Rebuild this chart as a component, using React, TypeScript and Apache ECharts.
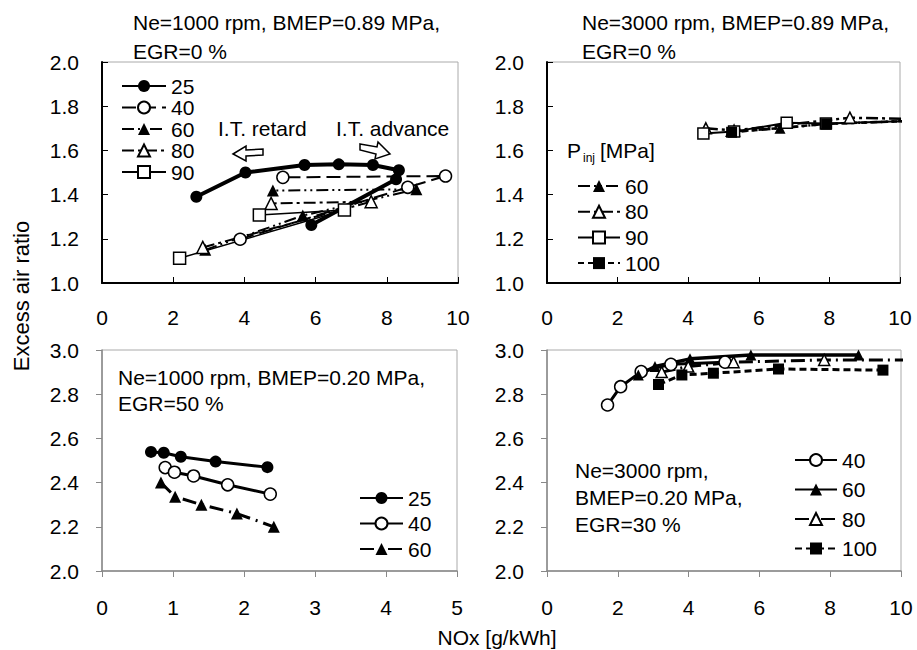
import React, { useEffect, useRef } from "react";
import * as echarts from "echarts";

const FONT = '"Liberation Sans", Arial, sans-serif';

// ---------- Data ----------
// Top-left: Ne=1000 rpm, BMEP=0.89 MPa, EGR=0 %  (NOx, excess air ratio)
const tlLabels = ["25", "40", "60", "80", "90"];
const tl25 = [[2.65, 1.39], [4.03, 1.5], [5.69, 1.534], [6.65, 1.537], [7.61, 1.534], [8.34, 1.51], [8.26, 1.469], [5.88, 1.262]];
const tl40 = [[3.88, 1.198], [8.59, 1.433], [9.65, 1.484], [5.08, 1.478]];
const tl60 = [[2.9, 1.15], [5.64, 1.305], [8.83, 1.424], [4.8, 1.418]];
const tl80 = [[2.83, 1.161], [7.56, 1.368], [4.75, 1.36]];
const tl90 = [[2.18, 1.112], [6.81, 1.33], [4.42, 1.308]];

// Top-right: Ne=3000 rpm, BMEP=0.89 MPa, EGR=0 %
const trLabels = ["60", "80", "90", "100"];
const tr60 = [[5.2, 1.685], [6.6, 1.7], [7.9, 1.72], [10.6, 1.735]];
const tr80 = [[4.5, 1.7], [5.3, 1.69], [8.58, 1.748], [11, 1.74]];
const tr90 = [[4.43, 1.677], [5.3, 1.685], [6.79, 1.725], [7.9, 1.722], [10.6, 1.735]];
const tr100 = [[5.23, 1.682], [7.92, 1.72], [10.6, 1.735]];

// Bottom-left: Ne=1000 rpm, BMEP=0.20 MPa, EGR=50 %
const blLabels = ["25", "40", "60"];
const bl25 = [[0.69, 2.539], [0.87, 2.535], [1.11, 2.517], [1.6, 2.495], [2.33, 2.47]];
const bl40 = [[0.89, 2.468], [1.02, 2.447], [1.29, 2.43], [1.77, 2.39], [2.37, 2.348]];
const bl60 = [[0.83, 2.4], [1.03, 2.336], [1.4, 2.3], [1.9, 2.26], [2.42, 2.2]];

// Bottom-right: Ne=3000 rpm, BMEP=0.20 MPa, EGR=30 %
const brLabels = ["40", "60", "80", "100"];
const br40 = [[1.71, 2.751], [2.08, 2.834], [2.66, 2.902], [3.5, 2.935], [5.03, 2.945]];
const br60 = [[2.58, 2.887], [3.05, 2.925], [4.04, 2.96], [5.76, 2.977], [8.8, 2.977]];
const br80 = [[3.24, 2.9], [3.99, 2.925], [5.27, 2.945], [7.83, 2.955], [10.6, 2.955]];
const br100 = [[3.15, 2.844], [3.81, 2.887], [4.7, 2.895], [6.54, 2.914], [9.49, 2.909]];

// Axis ranges / ticks
const topYRange = [1.0, 2.0];
const botYRange = [2.0, 3.0];
const yStep = 0.2;
const xRangeWide = [0, 10];
const xStepWide = 2;
const xRangeNarrow = [0, 5];
const xStepNarrow = 1;

// ---------- Styling helpers ----------
const DASH_LONG = [14, 6];
const DASH_DDOT = [12, 4, 2, 4, 2, 4];
const DASH_DOT = [12, 4, 3, 4];
const DASH_SHORT = [6, 4];

function mk(id: string, label: string, g: number, data: number[][], symbol: string, filled: boolean, width: number, dash: any, size = 12) {
  return {
    type: "line",
    name: id + "|" + label,
    xAxisIndex: g,
    yAxisIndex: g,
    data,
    symbol,
    symbolSize: size,
    showSymbol: true,
    clip: true,
    silent: true,
    lineStyle: { color: "#000", width, type: dash || "solid" },
    itemStyle: filled
      ? { color: "#000", borderColor: "#000", borderWidth: 0 }
      : { color: "#fff", borderColor: "#000", borderWidth: 1.5 },
    emphasis: { disabled: true },
  };
}

function xAx(g: number, range: number[], step: number, top: boolean) {
  return {
    gridIndex: g,
    type: "value",
    min: range[0],
    max: range[1],
    interval: step,
    axisLine: { show: true, onZero: false, lineStyle: { color: top ? "#000" : "#888", width: top ? 2 : 1.5 } },
    axisTick: { show: true, inside: top, length: 6, lineStyle: { color: top ? "#000" : "#888", width: 1 } },
    axisLabel: { margin: top ? 24 : 26, fontSize: 21, color: "#000", fontFamily: FONT },
    splitLine: { show: false },
  };
}

function yAx(g: number, range: number[], top: boolean) {
  return {
    gridIndex: g,
    type: "value",
    min: range[0],
    max: range[1],
    interval: yStep,
    axisLine: { show: true, onZero: false, lineStyle: { color: top ? "#000" : "#888", width: top ? 2 : 1.5 } },
    axisTick: { show: true, inside: top, length: 6, lineStyle: { color: top ? "#000" : "#888", width: 1 } },
    axisLabel: { margin: 23, fontSize: 21, color: "#000", fontFamily: FONT, formatter: (v: number) => v.toFixed(1) },
    splitLine: { show: false },
  };
}

const ROW_H = 22; // rendered legend row height (text box)

function legend(id: string, labels: string[], left: number, top: number, itemWidth: number, spacing: number) {
  const ih = 15;
  return {
    orient: "vertical",
    left,
    top: top - ih / 2,
    padding: 0,
    itemWidth,
    itemHeight: ih,
    itemGap: Math.max(0, spacing - ROW_H),
    selectedMode: false,
    data: labels.map((l) => id + "|" + l),
    formatter: (n: string) => n.split("|")[1],
    textStyle: { fontSize: 21, color: "#000", fontFamily: FONT },
  };
}

function panelTitle(text: string, left: number, top: number, lh: number) {
  return {
    text,
    left,
    top,
    padding: 0,
    textStyle: { fontSize: 21, fontWeight: "normal", color: "#000", fontFamily: FONT, lineHeight: lh },
  };
}

export default function App() {
  const ref = useRef<HTMLDivElement>(null);
  useEffect(() => {
    if (!ref.current) return;
    const chart = echarts.init(ref.current, null, { renderer: "svg" });
    const gridBase = { show: true, borderColor: "#aaa", borderWidth: 1, backgroundColor: "transparent" };
    const option: any = {
      animation: false,
      backgroundColor: "#fff",
      grid: [
        { ...gridBase, left: 102, top: 62, width: 356, height: 221 },
        { ...gridBase, left: 547, top: 62, width: 353, height: 221 },
        { ...gridBase, left: 102, top: 350, width: 355, height: 221 },
        { ...gridBase, left: 547, top: 350, width: 354, height: 221 },
      ],
      xAxis: [
        xAx(0, xRangeWide, xStepWide, true),
        xAx(1, xRangeWide, xStepWide, true),
        xAx(2, xRangeNarrow, xStepNarrow, false),
        xAx(3, xRangeWide, xStepWide, false),
      ],
      yAxis: [yAx(0, topYRange, true), yAx(1, topYRange, true), yAx(2, botYRange, false), yAx(3, botYRange, false)],
      title: [
        panelTitle("Ne=1000 rpm, BMEP=0.89 MPa,\nEGR=0 %", 133, 8, 29),
        panelTitle("Ne=3000 rpm, BMEP=0.89 MPa,\nEGR=0 %", 582, 8, 29),
        panelTitle("Ne=1000 rpm, BMEP=0.20 MPa,\nEGR=50 %", 118, 364, 26),
        panelTitle("Ne=3000 rpm,\nBMEP=0.20 MPa,\nEGR=30 %", 575, 457, 27),
      ],
      legend: [
        legend("TL", tlLabels, 121, 83, 44, 22.5),
        legend("TR", trLabels, 577, 183, 42, 26.7),
        legend("BL", blLabels, 359, 495, 43, 26.5),
        legend("BR", brLabels, 794, 457, 42, 30.5),
      ],
      series: [
        mk("TL", "25", 0, tl25, "circle", true, 4, null, 12),
        mk("TL", "40", 0, tl40, "circle", false, 2, DASH_LONG, 12),
        mk("TL", "60", 0, tl60, "triangle", true, 2, DASH_DDOT, 12),
        mk("TL", "80", 0, tl80, "triangle", false, 2, DASH_DOT, 12),
        mk("TL", "90", 0, tl90, "rect", false, 1.5, null, 12),
        mk("TR", "60", 1, tr60, "triangle", true, 2.5, DASH_DDOT, 11),
        mk("TR", "80", 1, tr80, "triangle", false, 2.5, DASH_DOT, 11),
        mk("TR", "90", 1, tr90, "rect", false, 2, null, 11),
        mk("TR", "100", 1, tr100, "rect", true, 2.5, DASH_SHORT, 11),
        mk("BL", "25", 2, bl25, "circle", true, 3, null, 12),
        mk("BL", "40", 2, bl40, "circle", false, 3, null, 12),
        mk("BL", "60", 2, bl60, "triangle", true, 3, [14, 6, 2, 6], 12),
        mk("BR", "40", 3, br40, "circle", false, 3, null, 12),
        mk("BR", "60", 3, br60, "triangle", true, 3.5, null, 11),
        mk("BR", "80", 3, br80, "triangle", false, 3, [14, 5, 2, 5], 11),
        mk("BR", "100", 3, br100, "rect", true, 3, [7, 4], 11),
      ],
      graphic: [
        {
          type: "text",
          x: 21,
          y: 296,
          rotation: Math.PI / 2,
          style: { text: "Excess air ratio", font: `22px ${FONT}`, fill: "#000", textAlign: "center", textVerticalAlign: "middle" },
        },
        {
          type: "text",
          x: 497,
          y: 637,
          style: { text: "NOx [g/kWh]", font: `21px ${FONT}`, fill: "#000", textAlign: "center", textVerticalAlign: "middle" },
        },
        {
          type: "text",
          x: 218,
          y: 128,
          style: { text: "I.T. retard", font: `21px ${FONT}`, fill: "#000", textAlign: "left", textVerticalAlign: "middle" },
        },
        {
          type: "text",
          x: 336,
          y: 128,
          style: { text: "I.T. advance", font: `21px ${FONT}`, fill: "#000", textAlign: "left", textVerticalAlign: "middle" },
        },
        {
          type: "polygon",
          shape: { points: [[233, 154], [246, 146], [246, 150], [263, 149], [263, 155], [246, 156], [246, 161]] },
          style: { fill: "#fff", stroke: "#000", lineWidth: 1.5 },
        },
        {
          type: "polygon",
          shape: { points: [[360, 144], [377, 147], [378, 142], [390, 154], [375, 159], [376, 154], [360, 150]] },
          style: { fill: "#fff", stroke: "#000", lineWidth: 1.5 },
        },
        {
          type: "text",
          x: 567,
          y: 150,
          style: { text: "P", font: `21px ${FONT}`, fill: "#000", textAlign: "left", textVerticalAlign: "middle" },
        },
        {
          type: "text",
          x: 583,
          y: 158,
          style: { text: "inj", font: `12px ${FONT}`, fill: "#000", textAlign: "left", textVerticalAlign: "middle" },
        },
        {
          type: "text",
          x: 600,
          y: 150,
          style: { text: "[MPa]", font: `21px ${FONT}`, fill: "#000", textAlign: "left", textVerticalAlign: "middle" },
        },
      ],
    };
    chart.setOption(option);
    return () => chart.dispose();
  }, []);
  return (
    <div
      ref={ref}
      style={{ position: "fixed", left: 0, top: 0, width: 917, height: 650, background: "#fff" }}
    />
  );
}
